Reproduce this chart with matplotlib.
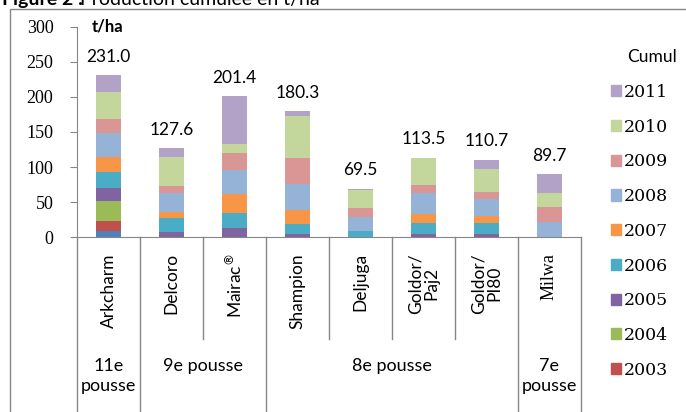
import numpy as np
import matplotlib
matplotlib.use('Agg')
import matplotlib.pyplot as plt
from matplotlib.patches import Rectangle, Patch

# data (t/ha per year)
categories = ['Arkcharm', 'Delcoro', 'Mairac$^{®}$', 'Shampion', 'Deljuga',
              'Goldor/\nPaj2', 'Goldor/\nPI80', 'Milwa']
years = ['2002', '2003', '2004', '2005', '2006', '2007', '2008', '2009', '2010', '2011']
y2002 = [9.0, 0, 0, 0, 0, 0, 0, 0]
y2003 = [14.6, 0, 0, 0, 0, 0, 0, 0]
y2004 = [28.1, 0, 0, 0, 0, 0, 0, 0]
y2005 = [18.1, 8.0, 12.8, 4.3, 0, 4.3, 4.3, 0]
y2006 = [22.8, 19.9, 22.2, 15.1, 9.4, 16.5, 16.5, 0]
y2007 = [21.4, 7.7, 26.7, 19.5, 0, 12.0, 10.0, 0]
y2008 = [34.1, 27.9, 34.2, 37.0, 19.9, 30.3, 23.3, 21.4]
y2009 = [20.4, 10.0, 24.6, 37.5, 12.4, 11.4, 10.0, 22.2]
y2010 = [38.9, 40.5, 12.4, 59.8, 25.2, 39.0, 33.2, 19.5]
y2011 = [23.6, 13.6, 68.5, 7.1, 2.6, 0, 13.4, 26.6]
series = [y2002, y2003, y2004, y2005, y2006, y2007, y2008, y2009, y2010, y2011]
legend_years = ['2011', '2010', '2009', '2008', '2007', '2006', '2005', '2004', '2003']

groups = ['11e\npousse', '9e pousse', '8e pousse', '7e\npousse']
group_spans = [(0, 0), (1, 2), (3, 6), (7, 7)]

colors = ['#4F81BD', '#C0504D', '#9BBB59', '#8064A2', '#4BACC6',
          '#F79646', '#95B3D7', '#D99694', '#C3D69B', '#B3A2C7']
grey = '#868686'

W, H = 686, 412
def fx(px):
    return px / W
def fy(py):
    return 1 - py / H

fig = plt.figure(figsize=(W / 100, H / 100), dpi=100)
ax = fig.add_axes([fx(77), fy(237.3), (581 - 77) / W, 210.6 / H])

x = np.arange(len(categories))
bottom = np.zeros(len(categories))
for yr, vals, c in zip(years, series, colors):
    ax.bar(x, vals, 0.4, bottom=bottom, color=c, label=yr, linewidth=0)
    bottom += np.array(vals)

for xi, tot in zip(x, bottom):
    ax.annotate(f'{tot:.1f}', (xi, tot), xytext=(0, 9.5), textcoords='offset points',
                ha='center', va='baseline', fontsize=12.5, family='Lato')

ax.set_xlim(-0.5, 7.5)
ax.set_ylim(0, 300)
ax.set_yticks(range(0, 301, 50))
ax.tick_params(axis='y', length=5, color=grey, pad=12, labelsize=13)
for lab in ax.get_yticklabels():
    lab.set_family('Liberation Serif')
ax.set_xticks([])
for s in ['top', 'right']:
    ax.spines[s].set_visible(False)
for s in ['left', 'bottom']:
    ax.spines[s].set_color(grey)

# category separators and labels
tr = ax.get_xaxis_transform()
full = [-0.5, 0.5, 2.5, 6.5, 7.5]
for b in np.arange(-0.5, 8, 1.0):
    ylow = -0.9 if b in full else (237.3 - 339) / 210.6
    ax.plot([b, b], [0, ylow], color=grey, lw=1, transform=tr, clip_on=False)

ylab = (237.3 - 253) / 210.6
for xi, name in zip(x, categories):
    fam = 'Liberation Serif' if name == 'Milwa' else 'Lato'
    ax.text(xi, ylab, name, rotation=90, ha='center', va='top', transform=tr,
            fontsize=12.5 if fam == 'Lato' else 13, family=fam,
            multialignment='center', linespacing=1.0)

ygrp = (237.3 - 358) / 210.6
for g, (a, b) in zip(groups, group_spans):
    ax.text((a + b) / 2, ygrp, g, ha='center', va='top', transform=tr,
            fontsize=13, family='Lato', linespacing=1.3)

# unit, title, legend
fig.text(fx(92), fy(31), 't/ha', fontsize=12, family='Lato', fontweight='bold', va='baseline')
fig.text(fx(2), fy(5), 'Figure 2 :', fontsize=14, family='Lato', fontweight='bold', va='baseline')
fig.text(fx(80), fy(5), 'Production cumulée en t/ha', fontsize=14, family='Lato', va='baseline')
fig.text(fx(627), fy(57), 'Cumul', fontsize=12.5, family='Lato', va='center')

handles = [Patch(color=colors[years.index(y)], label=y) for y in legend_years]
fig.legend(handles=handles, loc='upper left', bbox_to_anchor=(fx(611), fy(84)),
           frameon=False, borderpad=0, borderaxespad=0, handlelength=0.6, handleheight=0.6,
           handletextpad=0.15, labelspacing=1.02, prop={'family': 'DejaVu Serif', 'size': 12.5})

fig.add_artist(Rectangle((fx(10), -0.1), 1.0, fy(9) + 0.1, transform=fig.transFigure,
                         fill=False, edgecolor=grey, lw=1))

fig.savefig('out.png', dpi=100)
